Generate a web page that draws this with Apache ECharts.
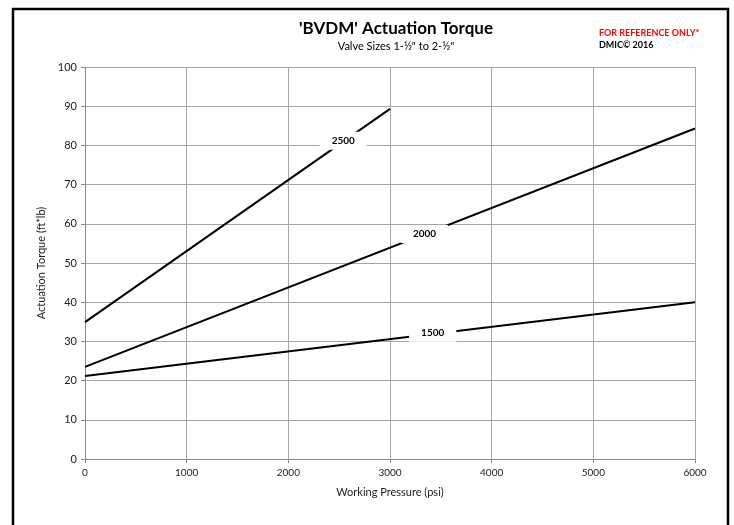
<!DOCTYPE html>
<html>
<head>
<meta charset="utf-8">
<script src="https://cdn.jsdelivr.net/npm/echarts@6/dist/echarts.min.js"></script>
<style>html,body{margin:0;padding:0;background:#fff;}#c{width:734px;height:525px;}</style>
</head>
<body>
<div id="c"></div>
<script>
var seriesNames = ['2500', '2000', '1500'];
var line2500 = [[0, 34.9], [3000, 89.3]];
var line2000 = [[0, 23.5], [6000, 84.3]];
var line1500 = [[0, 21.2], [6000, 40.0]];
var labelCoords = [[2540, 81.2], [3340, 57.4], [3420, 32.2]];
var xTicks = [0, 1000, 2000, 3000, 4000, 5000, 6000];
var yTicks = [0, 10, 20, 30, 40, 50, 60, 70, 80, 90, 100];

var FONT = 'Lato, "Open Sans", sans-serif';
var chart = echarts.init(document.getElementById('c'), null, {renderer: 'canvas'});
var lines = [line2500, line2000, line1500];
var series = lines.map(function (d, i) {
  return {
    name: seriesNames[i],
    type: 'line',
    data: d,
    symbol: 'none',
    lineStyle: {color: '#000', width: 2},
    silent: true,
    z: 3,
    markPoint: {
      symbol: 'rect',
      symbolSize: 1,
      itemStyle: {color: 'rgba(0,0,0,0)'},
      data: [{coord: labelCoords[i], value: seriesNames[i]}],
      label: {
        show: true,
        position: 'inside',
        formatter: seriesNames[i],
        color: '#000',
        fontWeight: 'bold',
        fontSize: 10,
        fontFamily: FONT,
        backgroundColor: '#fff',
        padding: [4, 12]
      },
      z: 5
    }
  };
});

chart.setOption({
  animation: false,
  backgroundColor: '#fff',
  grid: {left: 85, right: 39, top: 67, bottom: 66},
  title: [
    {text: "'BVDM' Actuation Torque", left: 391, top: 15, textAlign: 'center',
     textStyle: {fontFamily: FONT, fontSize: 17, fontWeight: 'bold', color: '#000'}},
    {text: 'Valve Sizes 1-½" to 2-½"', left: 391, top: 36, textAlign: 'center',
     textStyle: {fontFamily: FONT, fontSize: 11, fontWeight: 'normal', color: '#000'}},
    {text: 'FOR REFERENCE ONLY*', left: 594, top: 24,
     textStyle: {fontFamily: FONT, fontSize: 9, fontWeight: 'bold', color: '#ff0000'}},
    {text: 'DMIC© 2016', left: 594, top: 36,
     textStyle: {fontFamily: FONT, fontSize: 9, fontWeight: 'bold', color: '#000'}}
  ],
  graphic: [
    {type: 'rect', shape: {x: 13, y: 9, width: 715, height: 530},
     style: {fill: 'none', stroke: '#000', lineWidth: 2.5}, z: 10, silent: true}
  ],
  xAxis: {
    type: 'value', min: xTicks[0], max: xTicks[xTicks.length - 1], interval: 1000,
    name: 'Working Pressure (psi)', nameLocation: 'middle', nameGap: 28,
    nameTextStyle: {fontFamily: FONT, fontSize: 11, color: '#222'},
    axisLine: {show: true, lineStyle: {color: '#888', width: 1}},
    axisTick: {show: true, inside: false, length: 4, lineStyle: {color: '#888'}},
    axisLabel: {fontFamily: FONT, fontSize: 10, color: '#222', margin: 9,
                formatter: function (v) { return String(v); }},
    splitLine: {show: true, lineStyle: {color: '#a6a6a6', width: 1}}
  },
  yAxis: {
    type: 'value', min: yTicks[0], max: yTicks[yTicks.length - 1], interval: 10,
    name: 'Actuation Torque (ft*lb)', nameLocation: 'middle', nameGap: 38,
    nameTextStyle: {fontFamily: FONT, fontSize: 11, color: '#222'},
    axisLine: {show: true, lineStyle: {color: '#888', width: 1}},
    axisTick: {show: true, inside: false, length: 4, lineStyle: {color: '#888'}},
    axisLabel: {fontFamily: FONT, fontSize: 11, color: '#222', margin: 8},
    splitLine: {show: true, lineStyle: {color: '#a6a6a6', width: 1}}
  },
  series: series
});
</script>
</body>
</html>
